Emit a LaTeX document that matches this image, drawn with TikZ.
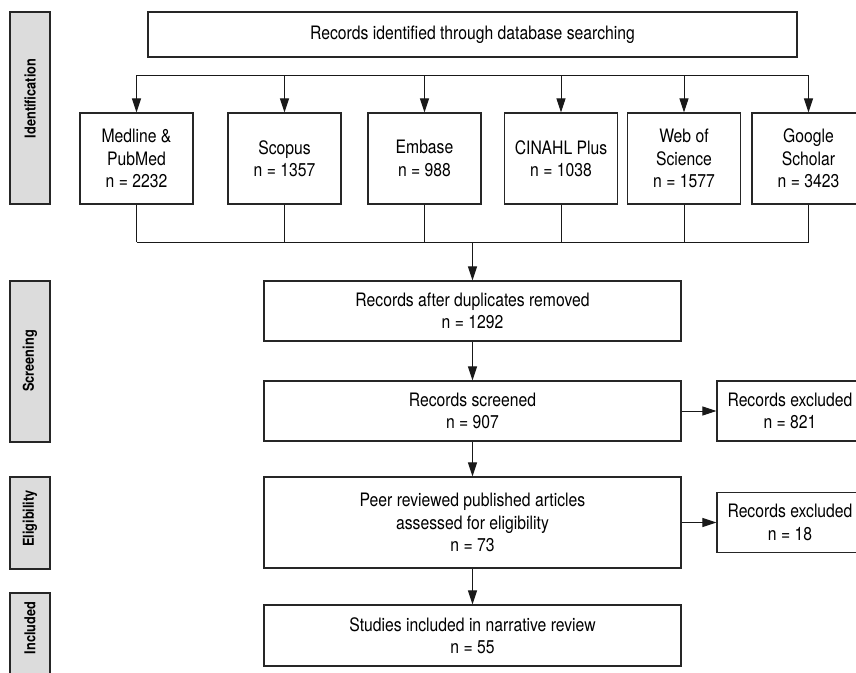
\documentclass[tikz,border=0pt]{standalone}
\usepackage{fontspec}
\setmainfont{TeX Gyre Heros}[FakeStretch=0.85]
\usetikzlibrary{arrows.meta}

\begin{document}
\begin{tikzpicture}[x=1pt, y=-1pt,
  box/.style={draw=black!85, line width=1.2pt, fill=white, inner sep=0pt,
    align=center, text=black, font=\fontsize{18.5}{22.5}\selectfont},
  phase/.style={draw=black!85, line width=1.2pt, fill=phasegray, inner sep=0pt,
    minimum width=40pt},
  phasetext/.style={rotate=90, inner sep=0pt, text=black,
    font=\fontsize{15}{17}\selectfont\bfseries},
  link/.style={draw=black!90, line width=1pt, -{Triangle[length=14pt,width=9pt]}},
  wire/.style={draw=black!90, line width=1pt}]
  % Define phase colour
  \definecolor{phasegray}{RGB}{220,220,220}

  \useasboundingbox (0,0) rectangle (856,672);
  \clip (0,0) rectangle (856,672);

  % Phase bars on the left
  \node[phase, minimum height=192pt] (identbar) at (30,108) {};
  \node[phase, minimum height=161pt] (screenbar) at (30,361.5) {};
  \node[phase, minimum height=92pt] (eligbar) at (30,523) {};
  \node[phase, minimum height=90pt] (inclbar) at (30,638) {};
  \node[phasetext] (identlabel) at (30,98.5) {Identification};
  \node[phasetext] (screenlabel) at (30,361) {Screening};
  \node[phasetext] (eliglabel) at (30,518.5) {Eligibility};
  \node[phasetext] (incllabel) at (30,628) {Included};

  % Database search
  \node[box, minimum width=649pt, minimum height=45pt] (search) at (472.5,34.5)
    {Records identified through database searching};

  % Draw the source boxes in a row
  \foreach \name/\x/\txt in {medline/136.5/{Medline \&\\PubMed\\n = 2232},
      scopus/284.5/{Scopus\\n = 1357},
      embase/424.5/{Embase\\n = 988},
      cinahl/561/{CINAHL Plus\\n = 1038},
      wos/684/{Web of\\Science\\n = 1577},
      google/808.5/{Google\\Scholar\\n = 3423}} {
    \node[box, minimum width=113pt, minimum height=91pt] (\name) at (\x,158.5) {\txt};
  }

  % Flow down the middle
  \node[box, minimum width=417pt, minimum height=60pt] (dup) at (472.5,311)
    {Records after duplicates removed\\n = 1292};
  \node[box, minimum width=417pt, minimum height=60pt] (screened) at (472.5,411)
    {Records screened\\n = 907};
  \node[box, minimum width=417pt, minimum height=91pt] (peer) at (472.5,522.5)
    {Peer reviewed published articles\\assessed for eligibility\\n = 73};
  \node[box, minimum width=417pt, minimum height=61pt] (studies) at (472.5,635.5)
    {Studies included in narrative review\\n = 55};

  % Exclusions on the right
  \node[box, minimum width=146pt, minimum height=60pt] (exclscreen) at (790,411)
    {Records excluded\\n = 821};
  \node[box, minimum width=146pt, minimum height=60pt] (excleligible) at (790,522.5)
    {Records excluded\\n = 18};

  % Split and merge lines
  \coordinate (split) at (472.5,75);
  \coordinate (merge) at (472.5,242);
  \draw[wire] (medline.north |- split) -- (google.north |- split);
  \draw[wire] (medline.south |- merge) -- (google.south |- merge);
  \foreach \name in {medline,scopus,embase,cinahl,wos,google} {
    \draw[link] (\name.north |- split) -- (\name.north);
    \draw[wire] (\name.south) -- (\name.south |- merge);
  }

  \draw[link] (merge) -- (dup.north);
  \draw[link] (dup) -- (screened);
  \draw[link] (screened) -- (peer);
  \draw[link] (peer) -- (studies);
  \draw[link] (screened) -- (exclscreen);
  \draw[link] (peer) -- (excleligible);
\end{tikzpicture}
\end{document}
